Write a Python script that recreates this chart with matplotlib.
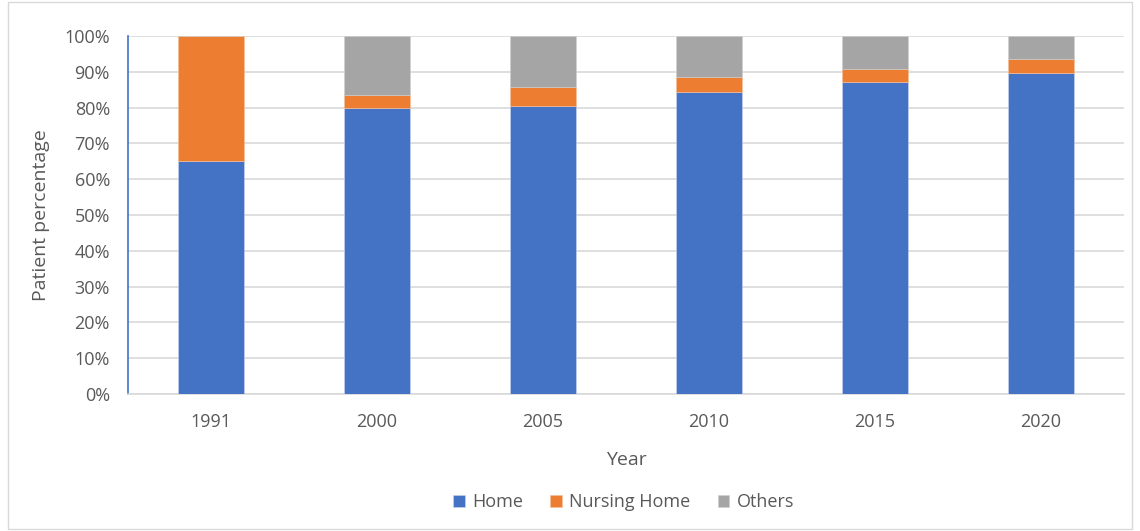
import matplotlib
matplotlib.use("Agg")
import matplotlib.pyplot as plt
import numpy as np
from matplotlib.patches import Rectangle
from matplotlib.ticker import PercentFormatter

years = ["1991", "2000", "2005", "2010", "2015", "2020"]
home = [65.0, 80.0, 80.4, 84.3, 87.1, 89.7]
nursing_home = [35.0, 3.5, 5.3, 4.2, 3.6, 3.8]
others = [0.0, 16.5, 14.3, 11.5, 9.3, 6.5]

colors = ["#4472C4", "#ED7D31", "#A5A5A5"]
plt.rcParams['font.family'] = ['Open Sans', 'DejaVu Sans']

W, H = 1140, 531
fig = plt.figure(figsize=(W / 100, H / 100), dpi=100)
ax = fig.add_axes([128 / W, 1 - 394 / H, (1124 - 128) / W, (394 - 36) / H])

x = np.arange(len(years))
bw = 0.4
b1 = ax.bar(x, home, bw, color=colors[0], label="Home", edgecolor="#c9d5ee", linewidth=0.4, zorder=3)
bottom2 = np.array(home)
b2 = ax.bar(x, nursing_home, bw, bottom=bottom2, color=colors[1], label="Nursing Home",
            edgecolor="#f3c29f", linewidth=0.4, zorder=3)
bottom3 = bottom2 + np.array(nursing_home)
b3 = ax.bar(x, others, bw, bottom=bottom3, color=colors[2], label="Others",
            edgecolor="#d0d0d0", linewidth=0.4, zorder=3)

ax.set_xlim(-0.5, len(years) - 0.5)
ax.set_ylim(0, 100)
ax.set_yticks(np.arange(0, 101, 10))
ax.yaxis.set_major_formatter(PercentFormatter(decimals=0))
ax.set_xticks(x)
ax.set_xticklabels(years)
ax.grid(axis="y", color="#D9D9D9", linewidth=1.2, zorder=0)
ax.tick_params(axis="both", length=0, labelsize=13, colors="#595959")
ax.tick_params(axis="y", pad=13)
ax.tick_params(axis="x", pad=14)
for s in ["top", "right"]:
    ax.spines[s].set_visible(False)
ax.spines["bottom"].set_color("#D9D9D9")
ax.spines["bottom"].set_linewidth(1.2)
ax.spines["left"].set_color("#4472C4")
ax.spines["left"].set_linewidth(1.2)

ax.set_xlabel("Year", fontsize=14, color="#595959", labelpad=14)
ax.set_ylabel("Patient percentage", fontsize=14, color="#595959", labelpad=10)

leg = fig.legend(handles=[b1, b2, b3], labels=["Home", "Nursing Home", "Others"],
                 loc="center", bbox_to_anchor=(0.547, 1 - 502 / H), ncol=3, frameon=False,
                 fontsize=13, handlelength=0.65, handleheight=0.65, columnspacing=1.5,
                 handletextpad=0.4)
for t in leg.get_texts():
    t.set_color("#595959")

fig.patches.append(Rectangle((8 / W, 0.003), 1 - 16 / W, 0.994, transform=fig.transFigure,
                             fill=False, edgecolor="#D9D9D9", linewidth=1.0))

fig.savefig("out.png", dpi=100)
